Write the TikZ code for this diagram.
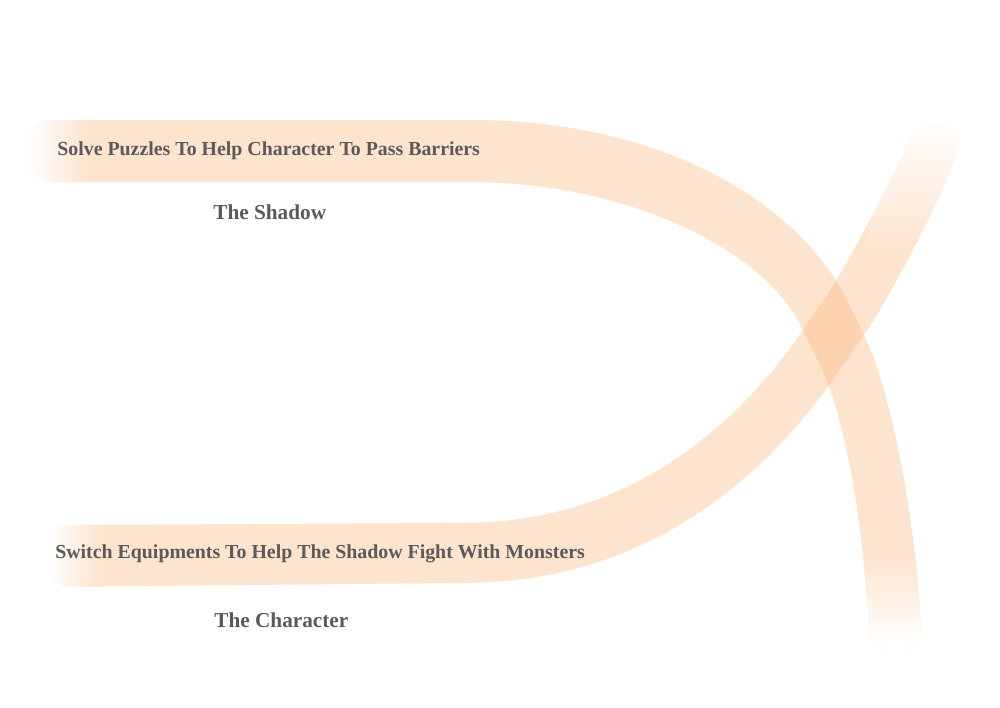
\documentclass[tikz,border=0pt]{standalone}
\usepackage{fontspec}
\setmainfont{Liberation Serif}
\usepackage{tikz}
\definecolor{bandorange}{RGB}{249,174,108}
\definecolor{textgray}{RGB}{90,90,90}

\begin{document}
\begin{tikzpicture}[%
	x=0.02cm, y=-0.02cm,
	band/.style = {transparency group, opacity=.33},
	task/.style = {anchor=base west, inner sep=0pt, text=textgray, font=\bfseries\fontsize{11.3}{13}\selectfont},
	role/.style = {anchor=base west, inner sep=0pt, text=textgray, font=\bfseries\fontsize{12.1}{14}\selectfont}
	]
  \useasboundingbox (0,0) rectangle (1000,707);
  % the shadow
  \begin{scope}[band]
    \clip[rounded corners=12pt] (30,120) -- (450,120) .. controls (665,120) and (800,204) .. (857,321)
      .. controls (885,378) and (915,500) .. (922,650) -- (870,650)
      .. controls (862,500) and (840,405) .. (810,345)
      .. controls (762,246) and (620,182) .. (450,182) -- (30,182) -- cycle;
    \fill[bandorange] (0,0) rectangle (1000,707);
    \shade[left color=white, right color=bandorange] (28,110) rectangle (88,195);
    \shade[top color=bandorange, bottom color=white] (840,560) rectangle (940,642);
    \fill[white] (840,641) rectangle (940,660);
  \end{scope}
  % the character
  \begin{scope}[band]
    \clip[rounded corners=12pt] (50,525) -- (450,523) .. controls (660,520) and (765,385) .. (811,318)
      .. controls (840,277) and (885,195) .. (918,122) -- (965,130)
      .. controls (935,215) and (880,312) .. (855,348)
      .. controls (804,422) and (690,580) .. (450,583) -- (50,587) -- cycle;
    \fill[bandorange] (0,0) rectangle (1000,707);
    \shade[left color=white, right color=bandorange] (48,515) rectangle (100,595);
    \shade[top color=white, middle color=bandorange!75!white, bottom color=bandorange] (870,118) rectangle (985,250);
  \end{scope}
  \node[task] (puzzles) at (57,155) {Solve Puzzles To Help Character To Pass Barriers};
  \node[role] (shadow) at (213,219) {The Shadow};
  \node[task] (equip) at (55,558) {Switch Equipments To Help The Shadow Fight With Monsters};
  \node[role] (character) at (214,627) {The Character};
\end{tikzpicture}
\end{document}
